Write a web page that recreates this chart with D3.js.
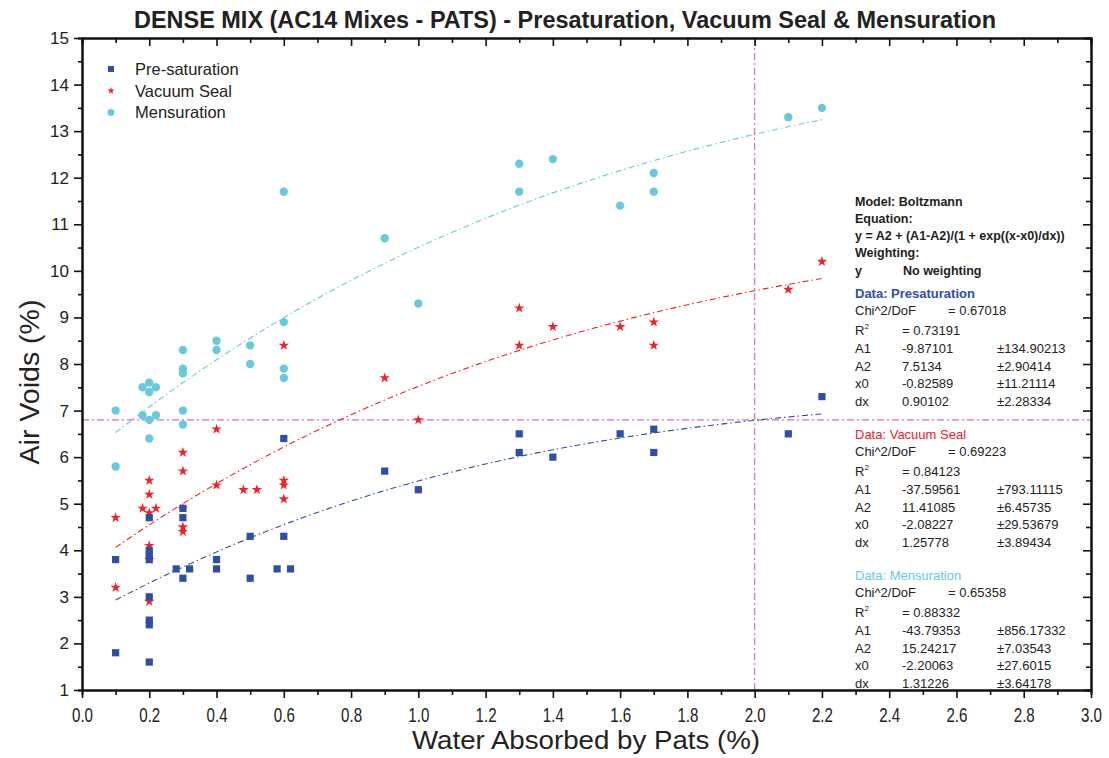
<!DOCTYPE html>
<html>
<head>
<meta charset="utf-8">
<script src="https://cdn.jsdelivr.net/npm/d3@7"></script>
<style>
  body { margin: 0; background: #fff; }
  text { font-family: "Liberation Sans", Arial, sans-serif; fill: #222; }
  .narrow { font-family: "Liberation Sans Narrow", "Arial Narrow", "Liberation Sans", sans-serif; }
</style>
</head>
<body>
<div id="chart"></div>
<script>
// ---- data ----
const presatX = [0.1, 0.1, 0.2, 0.2, 0.2, 0.2, 0.2, 0.2, 0.2, 0.2, 0.3, 0.3, 0.3, 0.28, 0.32, 0.4, 0.4, 0.5, 0.5, 0.6, 0.6, 0.58, 0.62, 0.9, 1.0, 1.3, 1.3, 1.4, 1.6, 1.7, 1.7, 2.1, 2.2];
const presatY = [3.8, 1.8, 4.7, 4.0, 3.9, 3.8, 3.0, 2.5, 2.4, 1.6, 4.9, 4.7, 3.4, 3.6, 3.6, 3.8, 3.6, 4.3, 3.4, 6.4, 4.3, 3.6, 3.6, 5.7, 5.3, 6.5, 6.1, 6.0, 6.5, 6.6, 6.1, 6.5, 7.3];

const vacX = [0.1, 0.1, 0.2, 0.2, 0.18, 0.22, 0.2, 0.2, 0.2, 0.2, 0.3, 0.3, 0.3, 0.3, 0.3, 0.4, 0.4, 0.48, 0.52, 0.6, 0.6, 0.6, 0.6, 0.9, 1.0, 1.3, 1.3, 1.4, 1.6, 1.7, 1.7, 2.1, 2.2];
const vacY = [4.7, 3.2, 5.5, 5.2, 4.9, 4.9, 4.8, 4.1, 3.8, 2.9, 6.1, 5.7, 4.9, 4.5, 4.4, 6.6, 5.4, 5.3, 5.3, 8.4, 5.5, 5.4, 5.1, 7.7, 6.8, 9.2, 8.4, 8.8, 8.8, 8.9, 8.4, 9.6, 10.2];

const mensX = [0.1, 0.1, 0.2, 0.18, 0.22, 0.2, 0.18, 0.22, 0.2, 0.2, 0.3, 0.3, 0.3, 0.3, 0.3, 0.4, 0.4, 0.5, 0.5, 0.6, 0.6, 0.6, 0.6, 0.9, 1.0, 1.3, 1.3, 1.4, 1.6, 1.7, 1.7, 2.1, 2.2];
const mensY = [7.0, 5.8, 7.6, 7.5, 7.5, 7.4, 6.9, 6.9, 6.8, 6.4, 8.3, 7.9, 7.8, 7.0, 6.7, 8.5, 8.3, 8.4, 8.0, 11.7, 8.9, 7.9, 7.7, 10.7, 9.3, 12.3, 11.7, 12.4, 11.4, 12.1, 11.7, 13.3, 13.5];

// Boltzmann fit parameters [A1, A2, x0, dx] as printed in the chart
const presatFit = [-9.87101, 7.5134, -0.82589, 0.90102];
const vacFit = [-37.59561, 11.41085, -2.08227, 1.25778];
const mensFit = [-43.79353, 15.24217, -2.20063, 1.31226];
const fitRange = [0.1, 2.2];

const refX = 2.0;
const refY = 6.8;

const xTicks = d3.range(0, 3.01, 0.2);
const yTicks = d3.range(1, 15.01, 1);

// ---- layout ----
const W = 1109, H = 758;
const margin = {top: 38, right: 18, bottom: 68, left: 82};
const plotW = W - margin.left - margin.right;
const plotH = H - margin.top - margin.bottom;

const blue = "#2f4fa3", red = "#ee2229", cyan = "#69c9dc", pink = "#d86ac6";

const svg = d3.select("#chart").append("svg")
  .attr("width", W).attr("height", H);

const x = d3.scaleLinear().domain([0, 3]).range([margin.left, margin.left + plotW]);
const y = d3.scaleLinear().domain([1, 15]).range([margin.top + plotH, margin.top]);

// reference lines
svg.append("line")
  .attr("x1", x(0)).attr("x2", x(3)).attr("y1", y(refY)).attr("y2", y(refY))
  .attr("stroke", pink).attr("stroke-width", 1.2).attr("stroke-dasharray", "7,3,2,3");
svg.append("line")
  .attr("x1", x(refX)).attr("x2", x(refX)).attr("y1", y(1)).attr("y2", y(15))
  .attr("stroke", pink).attr("stroke-width", 1.2).attr("stroke-dasharray", "7,3,2,3");

// fit curves
function boltz(p, v) { return p[1] + (p[0] - p[1]) / (1 + Math.exp((v - p[2]) / p[3])); }
const line = d3.line().x(d => x(d[0])).y(d => y(d[1]));
[[presatFit, blue], [vacFit, red], [mensFit, cyan]].forEach(([p, c]) => {
  const pts = d3.range(fitRange[0], fitRange[1] + 0.0001, 0.02).map(v => [v, boltz(p, v)]);
  svg.append("path").attr("d", line(pts)).attr("fill", "none")
    .attr("stroke", c).attr("stroke-width", 1.1).attr("stroke-dasharray", "6,3,1.5,3");
});

// points
function drawPoints(xs, ys, type, size, color) {
  const sym = d3.symbol().type(type).size(size);
  svg.append("g").selectAll("path").data(xs).join("path")
    .attr("d", sym)
    .attr("transform", (d, i) => `translate(${x(d)},${y(ys[i])})`)
    .attr("fill", color);
}
drawPoints(mensX, mensY, d3.symbolCircle, 55, cyan);
drawPoints(vacX, vacY, d3.symbolStar, 34, red);
drawPoints(presatX, presatY, d3.symbolSquare, 52, blue);

// axes
const xMinor = d3.range(0.1, 3, 0.2);
const yMinor = d3.range(1.5, 15, 1);
function styleAxis(g) {
  g.select(".domain").attr("stroke", "#111").attr("stroke-width", 2);
  g.selectAll(".tick line").attr("stroke", "#111").attr("stroke-width", 1.6);
}
svg.append("g").attr("transform", `translate(0,${y(1)})`)
  .call(d3.axisBottom(x).tickValues(xTicks).tickSize(8).tickSizeOuter(0).tickPadding(10).tickFormat(d3.format(".1f")))
  .call(styleAxis)
  .selectAll("text").attr("class", "narrow").style("font-size", "20px").attr("fill", "#222")
  .attr("textLength", 21).attr("lengthAdjust", "spacingAndGlyphs");
svg.append("g").attr("transform", `translate(0,${y(1)})`)
  .call(d3.axisBottom(x).tickValues(xMinor).tickSize(5).tickFormat(""))
  .call(styleAxis);
svg.append("g").attr("transform", `translate(0,${y(15)})`)
  .call(d3.axisTop(x).tickValues(xTicks).tickSize(-8).tickSizeOuter(0).tickFormat(""))
  .call(styleAxis);
svg.append("g").attr("transform", `translate(0,${y(15)})`)
  .call(d3.axisTop(x).tickValues(xMinor).tickSize(-5).tickFormat(""))
  .call(styleAxis);

svg.append("g").attr("transform", `translate(${x(0)},0)`)
  .call(d3.axisLeft(y).tickValues(yTicks).tickSize(8).tickSizeOuter(0).tickPadding(5))
  .call(styleAxis)
  .selectAll("text").style("font-size", "17px").attr("fill", "#222");
svg.append("g").attr("transform", `translate(${x(0)},0)`)
  .call(d3.axisLeft(y).tickValues(yMinor).tickSize(4).tickFormat(""))
  .call(styleAxis);
svg.append("g").attr("transform", `translate(${x(3)},0)`)
  .call(d3.axisRight(y).tickValues(yTicks).tickSize(-8).tickSizeOuter(0).tickFormat(""))
  .call(styleAxis);
svg.append("g").attr("transform", `translate(${x(3)},0)`)
  .call(d3.axisRight(y).tickValues(yMinor).tickSize(-5).tickFormat(""))
  .call(styleAxis);

// titles
svg.append("text").attr("class", "narrow")
  .attr("x", 565).attr("y", 28).attr("text-anchor", "middle")
  .attr("textLength", 862).attr("lengthAdjust", "spacingAndGlyphs")
  .style("font-size", "23px").style("font-weight", "bold")
  .text("DENSE MIX (AC14 Mixes - PATS) - Presaturation, Vacuum Seal & Mensuration");
svg.append("text").attr("class", "narrow")
  .attr("x", 586).attr("y", 749).attr("text-anchor", "middle")
  .attr("textLength", 348).attr("lengthAdjust", "spacingAndGlyphs")
  .style("font-size", "26px")
  .text("Water Absorbed by Pats (%)");
svg.append("text").attr("class", "narrow")
  .attr("transform", "translate(39,382) rotate(-90)").attr("text-anchor", "middle")
  .attr("textLength", 165).attr("lengthAdjust", "spacingAndGlyphs")
  .style("font-size", "27px")
  .text("Air Voids (%)");

// legend
const legendItems = [["Pre-saturation", d3.symbolSquare, 36, blue],
                     ["Vacuum Seal", d3.symbolStar, 16, red],
                     ["Mensuration", d3.symbolCircle, 36, cyan]];
legendItems.forEach((it, i) => {
  const ly = 69 + i * 21.7;
  svg.append("path").attr("d", d3.symbol().type(it[1]).size(it[2]))
    .attr("transform", `translate(111,${ly})`).attr("fill", it[3]);
  svg.append("text").attr("x", 135).attr("y", ly + 6).style("font-size", "16.5px").text(it[0]);
});

// fit report
const sx = 855;
const header = [["Model: Boltzmann", 201], ["Equation:", 218], ["y = A2 + (A1-A2)/(1 + exp((x-x0)/dx))", 235], ["Weighting:", 252]];
header.forEach(h => svg.append("text").attr("x", sx).attr("y", h[1] + 5)
  .style("font-size", "12.5px").style("font-weight", "bold").text(h[0]));
svg.append("text").attr("x", sx).attr("y", 275).style("font-size", "12.5px").style("font-weight", "bold").text("y");
svg.append("text").attr("x", 903).attr("y", 275).style("font-size", "12.5px").style("font-weight", "bold").text("No weighting");

const blocks = [
  {name: "Data: Presaturation", color: blue, bold: true, top: 293, chi: "0.67018", r2: "0.73191",
   rows: [["A1", "-9.87101", "\u00b1134.90213"], ["A2", "7.5134", "\u00b12.90414"], ["x0", "-0.82589", "\u00b111.21114"], ["dx", "0.90102", "\u00b12.28334"]]},
  {name: "Data: Vacuum Seal", color: red, bold: false, top: 434, chi: "0.69223", r2: "0.84123",
   rows: [["A1", "-37.59561", "\u00b1793.11115"], ["A2", "11.41085", "\u00b16.45735"], ["x0", "-2.08227", "\u00b129.53679"], ["dx", "1.25778", "\u00b13.89434"]]},
  {name: "Data: Mensuration", color: cyan, bold: false, top: 575, chi: "0.65358", r2: "0.88332",
   rows: [["A1", "-43.79353", "\u00b1856.17332"], ["A2", "15.24217", "\u00b17.03543"], ["x0", "-2.20063", "\u00b127.6015"], ["dx", "1.31226", "\u00b13.64178"]]}
];
blocks.forEach(b => {
  const g = svg.append("g").style("font-size", "13px");
  g.append("text").attr("x", sx).attr("y", b.top + 5).style("fill", b.color)
    .style("font-weight", b.bold ? "bold" : "normal").text(b.name);
  g.append("text").attr("x", sx).attr("y", b.top + 22).text("Chi^2/DoF");
  g.append("text").attr("x", 948).attr("y", b.top + 22).text("= " + b.chi);
  const r = g.append("text").attr("x", sx).attr("y", b.top + 42);
  r.append("tspan").text("R");
  r.append("tspan").attr("dy", -6).style("font-size", "8px").text("2");
  g.append("text").attr("x", 902).attr("y", b.top + 42).text("=  " + b.r2);
  b.rows.forEach((row, i) => {
    const ry = b.top + 60 + i * 17.5;
    g.append("text").attr("x", sx).attr("y", ry).text(row[0]);
    g.append("text").attr("x", 902).attr("y", ry).text(row[1]);
    g.append("text").attr("x", 997).attr("y", ry).text(row[2]);
  });
});
</script>
</body>
</html>
